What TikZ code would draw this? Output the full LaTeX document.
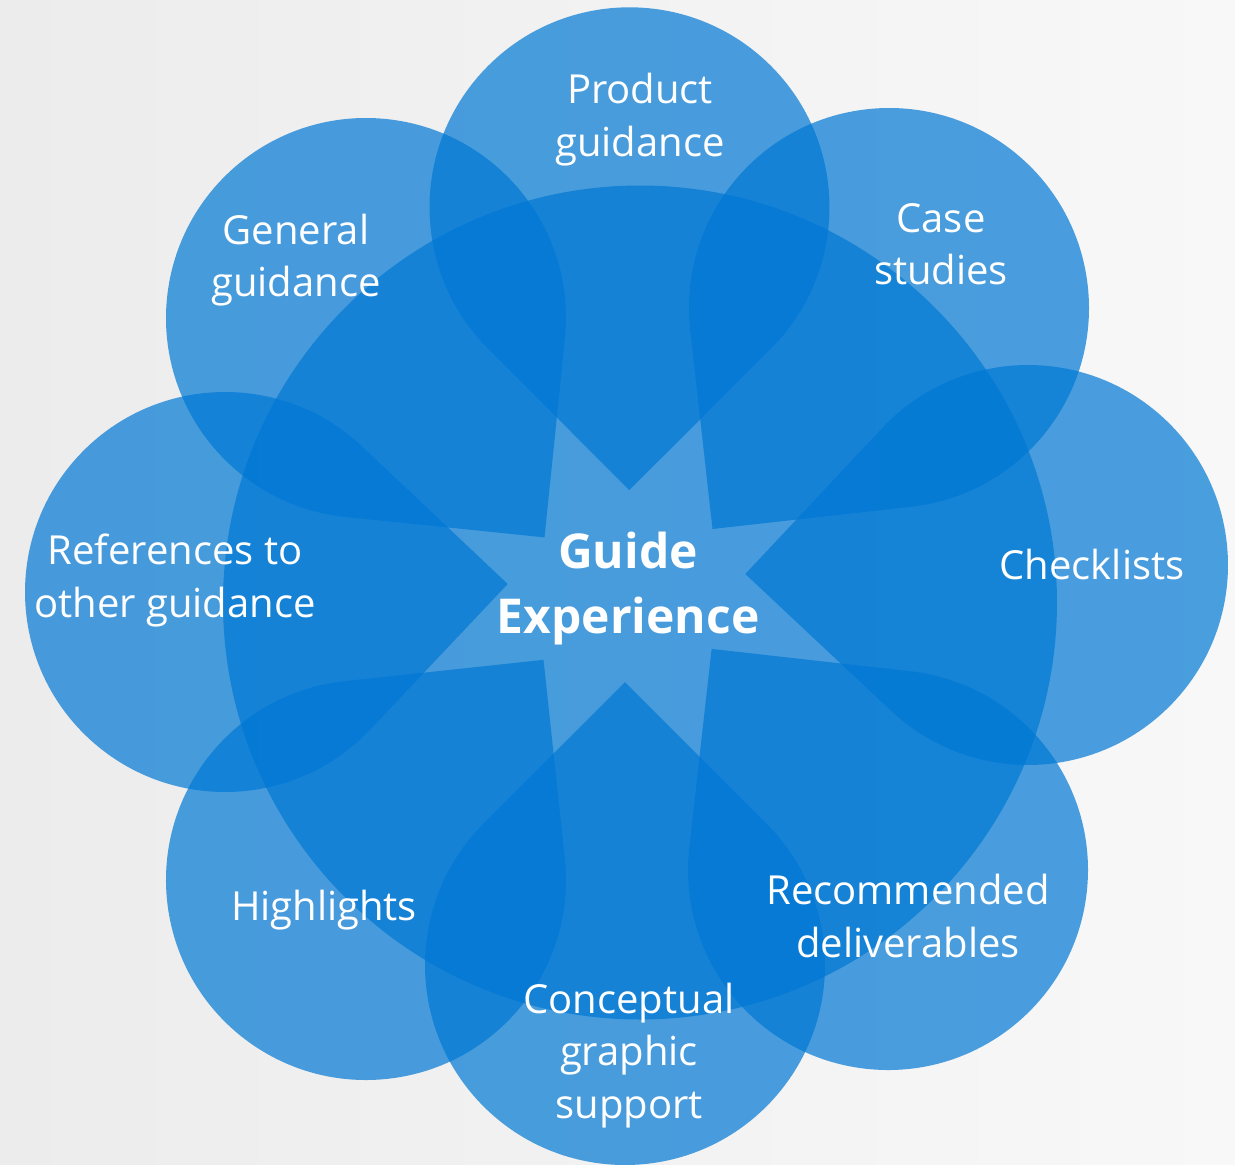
\documentclass[tikz,border=0pt]{standalone}
\usepackage{fontspec}
\setmainfont{Open Sans}
\usetikzlibrary{calc}
\definecolor{msblue}{HTML}{0078D4}
\definecolor{bgleft}{HTML}{ECECEC}
\definecolor{bgright}{HTML}{F8F8F8}
\newcommand\petalshape[2]{%
  \fill[petal] let \p1=($(#2)-(#1)$), \n1={atan2(\y1,\x1)} in
    ($(#1)+(\n1:282.84pt)$) -- ($(#1)+(\n1+45:200pt)$)
    arc[start angle=\n1+45, end angle=\n1+315, radius=200pt] -- cycle;}
\begin{document}
\begin{tikzpicture}[x=1pt,y=-1pt,
  petal/.style={fill=msblue, fill opacity=0.7},
  lbl/.style={text=white, align=center, inner sep=0pt, font=\fontsize{40}{52.5}\selectfont},
  hub/.style={text=white, align=center, inner sep=0pt, font=\fontsize{48}{64.5}\selectfont\bfseries}]
\shade[left color=bgleft, right color=bgright] (0,0) rectangle (1235,1165);
\useasboundingbox (0,0) rectangle (1235,1165);
% central circle
\coordinate (hc) at (640,602.5);
\fill[petal] (hc) circle[radius=417];
% petal centres and tips
\coordinate (c1) at (629.5,207.3); \coordinate (t1) at (629.3,490.7);
\coordinate (c2) at (889,308);     \coordinate (t2) at (711.7,530);
\coordinate (c3) at (1028,565);    \coordinate (t3) at (745,574);
\coordinate (c4) at (888,870);     \coordinate (t4) at (711.7,649);
\coordinate (c5) at (625,965);     \coordinate (t5) at (625,681.7);
\coordinate (c6) at (366,880);     \coordinate (t6) at (545,658);
\coordinate (c7) at (225,592);     \coordinate (t7) at (506.7,584);
\coordinate (c8) at (366,318);     \coordinate (t8) at (545,538);
\petalshape{c1}{t1}
\petalshape{c2}{t2}
\petalshape{c3}{t3}
\petalshape{c4}{t4}
\petalshape{c5}{t5}
\petalshape{c6}{t6}
\petalshape{c7}{t7}
\petalshape{c8}{t8}
% labels
\node[hub] (hubtext) at (628,588.5) {Guide\\Experience};
\node[lbl] (prod) at (640,119.5) {Product\\guidance};
\node[lbl] (case) at (941,244) {Case\\studies};
\node[lbl] (check) at (1092,564) {Checklists};
\node[lbl] (recom) at (908,916) {Recommended\\deliverables};
\node[lbl] (concept) at (629,1055.5) {Conceptual\\graphic\\support};
\node[lbl] (high) at (324,910) {Highlights};
\node[lbl] (refs) at (175,580.5) {References to\\other guidance};
\node[lbl] (gen) at (296,260) {General\\guidance};
\end{tikzpicture}
\end{document}
